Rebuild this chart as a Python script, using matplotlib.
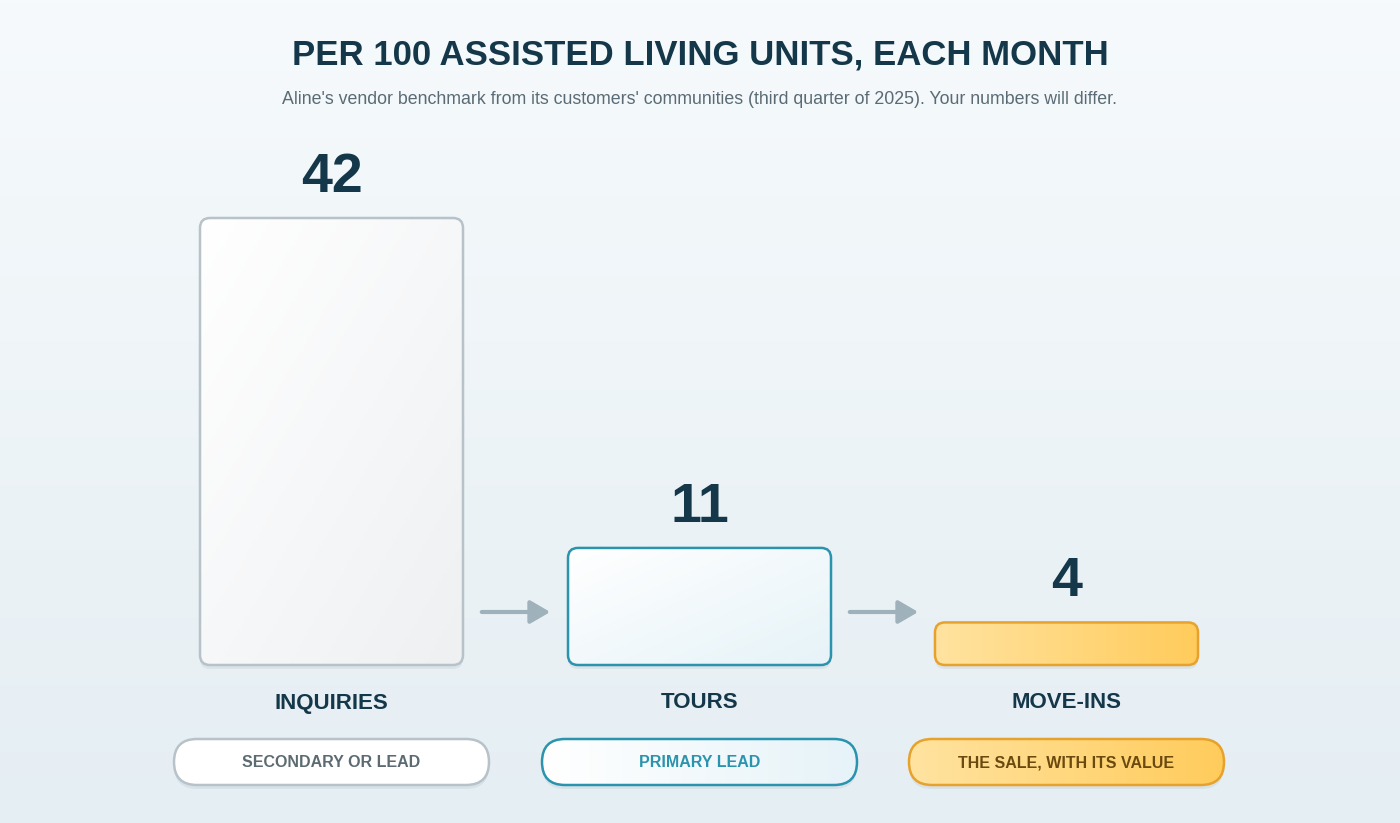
import numpy as np
import matplotlib
matplotlib.use("Agg")
import matplotlib.pyplot as plt
from matplotlib.patches import FancyBboxPatch, FancyArrowPatch

categories = ["INQUIRIES", "TOURS", "MOVE-INS"]
values = [42, 11, 4]
roles = ["SECONDARY OR LEAD", "PRIMARY LEAD", "THE SALE, WITH ITS VALUE"]
title = "PER 100 ASSISTED LIVING UNITS, EACH MONTH"
subtitle = "Aline's vendor benchmark from its customers' communities (third quarter of 2025). Your numbers will differ."

edge = ["#b7c3c9", "#2a93ad", "#e6a22c"]
grad = [("#ffffff", "#eef0f2"), ("#ffffff", "#e6f3f8"), ("#ffe3a0", "#ffcc5c")]
pill_text = ["#5c6b72", "#2a93ad", "#6b4a10"]
dark = "#14384a"

plt.rcParams['font.family'] = ['Liberation Sans', 'DejaVu Sans']
W, H = 1400, 823
fig = plt.figure(figsize=(14, 8.23), dpi=100)
ax = fig.add_axes([0, 0, 1, 1])
ax.set_xlim(0, W); ax.set_ylim(H, 0); ax.axis('off')

# background gradient
bg = np.linspace(0, 1, 256)[:, None]
c0 = np.array(matplotlib.colors.to_rgb("#f6fafc")); c1 = np.array(matplotlib.colors.to_rgb("#e5eef3"))
img = c0 + (c1 - c0) * bg[..., None]
ax.imshow(np.repeat(img, 2, axis=1), extent=[0, W, H, 0], aspect='auto', zorder=0)

def hex2(c): return np.array(matplotlib.colors.to_rgb(c))

def grad_patch(x0, y0, w, h, pad, cols, ec, lw=1.8, z=2, diag=True):
    sh = FancyBboxPatch((x0, y0 + 4), w, h, boxstyle=f"round,pad=0,rounding_size={pad}",
                        fc="#cfdbe1", ec="none", alpha=0.6, zorder=z - 1)
    ax.add_patch(sh)
    p = FancyBboxPatch((x0, y0), w, h, boxstyle=f"round,pad=0,rounding_size={pad}",
                       fc="none", ec=ec, lw=lw, zorder=z + 1)
    ax.add_patch(p)
    n = 64
    xx, yy = np.meshgrid(np.linspace(0, 1, n), np.linspace(0, 1, n))
    t = (xx + yy) / 2 if diag else xx
    a, b = hex2(cols[0]), hex2(cols[1])
    im = a + (b - a) * t[..., None]
    art = ax.imshow(im, extent=[x0, x0 + w, y0 + h, y0], aspect='auto', zorder=z)
    clip = FancyBboxPatch((x0, y0), w, h, boxstyle=f"round,pad=0,rounding_size={pad}",
                          fc="none", ec="none", transform=ax.transData)
    ax.add_patch(clip)
    art.set_clip_path(clip)

base = 665
scale = (665 - 218) / 42.0
centers = [331.5, 699.5, 1066.5]
bw = 263

ax.text(W / 2, 55, title, ha='center', va='center', fontsize=25, fontweight='bold', color=dark)
ax.text(W / 2, 99, subtitle, ha='center', va='center', fontsize=12.8, color="#5a6b75")

for i, (c, v) in enumerate(zip(centers, values)):
    h = v * scale
    top = base - h
    grad_patch(c - bw / 2, top, bw, h, 10, grad[i], edge[i], diag=(i < 2))
    ax.text(c, top - 40, str(v), ha='center', va='center', fontsize=40, fontweight='bold', color=dark)
    ax.text(c, 703, categories[i], ha='center', va='center', fontsize=16, fontweight='bold', color=dark)
    pw, ph = 315, 46
    grad_patch(c - pw / 2, 739, pw, ph, 23, grad[i] if i else ("#ffffff", "#ffffff"), edge[i], lw=1.8, diag=False)
    ax.text(c, 762.5, "\u200a".join(roles[i]) if False else roles[i], ha='center', va='center',
            fontsize=11.5, fontweight='bold', color=pill_text[i], zorder=10,
            fontstretch='expanded')

for xs, xe in [(479, 553), (847, 921)]:
    ax.add_patch(FancyArrowPatch((xs, 612), (xe, 612), arrowstyle='-|>,head_length=12,head_width=7',
                                 mutation_scale=1, color="#9fb1ba", lw=3, zorder=5))

fig.savefig("out.png", dpi=100)
